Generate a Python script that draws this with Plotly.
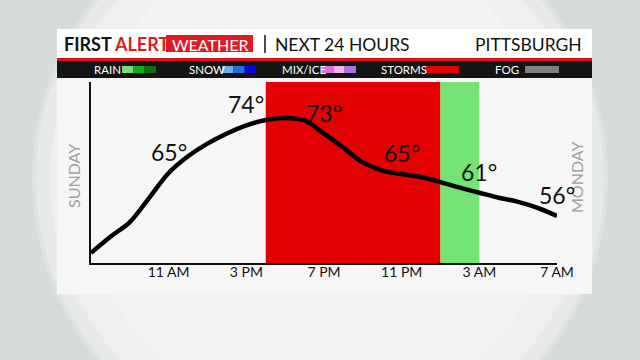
import plotly.graph_objects as go

# ---------------- data ----------------
hours = list(range(7, 32))  # 7 AM Sunday .. 7 AM Monday (31)
temps = [48.7, 51.9, 54.8, 59.6, 64.5, 67.8, 70.3, 72.3, 73.9, 75.0, 75.4, 74.9,
         72.3, 69.5, 66.6, 65.0, 64.3, 63.7, 62.7, 61.6, 60.6, 59.6, 58.8, 57.6, 56.0]
label_hours = [11, 15, 19, 23, 27, 31]
label_temps = [65, 74, 73, 65, 61, 56]
tick_vals = [11, 15, 19, 23, 27, 31]
tick_text = ["11 AM", "3 PM", "7 PM", "11 PM", "3 AM", "7 AM"]
period_starts = [16, 25]
period_ends = [25, 27]
period_colors = ["#e30000", "#74e474"]
legend_names = ["RAIN", "SNOW", "MIX/ICE", "STORMS", "FOG"]
legend_colors = [["#74e074", "#12b012", "#0b700b"],
                 ["#6cb0e8", "#2270e2", "#0606e0"],
                 ["#e070e0", "#f8b0e8", "#b070f2"],
                 ["#e30000"],
                 ["#808080"]]

W, H = 640, 360
FONT = "Lato"


def px(x):
    return x / W


def py(y):
    return 1 - y / H


shapes = []
annotations = []

# background sphere
for r, c in [(288, "#dfe2e2"), (284, "#e8eaea"), (270, "#eeefef"), (240, "#f1f2f2")]:
    shapes.append(dict(type="circle", xref="paper", yref="paper", layer="below",
                       x0=px(320 - r), x1=px(320 + r), y0=py(178 + r), y1=py(178 - r),
                       fillcolor=c, line=dict(width=0)))
# panel pieces
shapes.append(dict(type="rect", xref="paper", yref="paper", layer="below",
                   x0=px(57), x1=px(592), y0=py(58), y1=py(29), fillcolor="white", line=dict(width=0)))
shapes.append(dict(type="rect", xref="paper", yref="paper", layer="below",
                   x0=px(57), x1=px(592), y0=py(61), y1=py(58), fillcolor="#d9121b", line=dict(width=0)))
shapes.append(dict(type="rect", xref="paper", yref="paper", layer="below",
                   x0=px(57), x1=px(592), y0=py(78), y1=py(61), fillcolor="#141414", line=dict(width=0)))
shapes.append(dict(type="rect", xref="paper", yref="paper", layer="below",
                   x0=px(57), x1=px(592), y0=py(294), y1=py(78), fillcolor="#f6f6f6", line=dict(width=0)))
# weather box in title
shapes.append(dict(type="rect", xref="paper", yref="paper",
                   x0=px(166), x1=px(253), y0=py(52), y1=py(35), fillcolor="#dc1c22", line=dict(width=0)))
shapes.append(dict(type="line", xref="paper", yref="paper",
                   x0=px(265), x1=px(265), y0=py(53), y1=py(35), line=dict(color="#111", width=1.5)))

# condition periods on the chart
for s, e, c in zip(period_starts, period_ends, period_colors):
    shapes.append(dict(type="rect", xref="x", yref="y domain", layer="below",
                       x0=s, x1=e, y0=0, y1=1, fillcolor=c, line=dict(width=0)))

# legend bar
leg_text_x = [92, 187, 280, 379, 493]
leg_sw_x = [122, 222, 322, 425, 525]
for name, cols, tx, sx in zip(legend_names, legend_colors, leg_text_x, leg_sw_x):
    annotations.append(dict(xref="paper", yref="paper", x=px(tx), y=py(70), xanchor="left",
                            yanchor="middle", text=name, showarrow=False,
                            font=dict(family=FONT, size=11.5, color="white")))
    seg = 34 / len(cols)
    for i, c in enumerate(cols):
        shapes.append(dict(type="rect", xref="paper", yref="paper",
                           x0=px(sx + i * seg), x1=px(sx + (i + 1) * seg), y0=py(73), y1=py(66),
                           fillcolor=c, line=dict(width=0)))

# header text
annotations += [
    dict(xref="paper", yref="paper", x=px(62), y=py(44), xanchor="left", yanchor="middle",
         text="<b>FIRST <span style='color:#dc1c22'>ALERT</span></b>", showarrow=False,
         font=dict(family=FONT, size=18, color="#111", weight=900)),
    dict(xref="paper", yref="paper", x=px(209.5), y=py(44), xanchor="center", yanchor="middle",
         text="WEATHER", showarrow=False, font=dict(family=FONT, size=16, color="white")),
    dict(xref="paper", yref="paper", x=px(273), y=py(44), xanchor="left", yanchor="middle",
         text="NEXT 24 HOURS", showarrow=False, font=dict(family=FONT, size=17.5, color="#111")),
    dict(xref="paper", yref="paper", x=px(584), y=py(44), xanchor="right", yanchor="middle",
         text="PITTSBURGH", showarrow=False, font=dict(family=FONT, size=17.5, color="#111")),
    dict(xref="paper", yref="paper", x=px(73), y=py(176), xanchor="center", yanchor="middle",
         text="SUNDAY", textangle=-90, showarrow=False, font=dict(family=FONT, size=16, color="#a0a0a0")),
    dict(xref="paper", yref="paper", x=px(576), y=py(178), xanchor="center", yanchor="middle",
         text="MONDAY", textangle=-90, showarrow=False, font=dict(family=FONT, size=16, color="#a0a0a0")),
]

# temperature labels
for h, t in zip(label_hours, label_temps):
    yv = temps[hours.index(h)]
    annotations.append(dict(x=h, y=yv, xref="x", yref="y", text=f"{t}°", showarrow=False,
                            yshift=21, font=dict(family=FONT, size=23, color="#111")))

fig = go.Figure()
fig.add_trace(go.Scatter(x=hours, y=temps, mode="lines",
                         line=dict(color="black", width=4.5, shape="spline", smoothing=1),
                         hoverinfo="skip", showlegend=False))

fig.update_layout(
    width=W, height=H, autosize=False,
    margin=dict(l=0, r=0, t=0, b=0, pad=0, autoexpand=False),
    paper_bgcolor="#d6dbdc", plot_bgcolor="rgba(0,0,0,0)",
    shapes=shapes, annotations=annotations, showlegend=False,
    xaxis=dict(domain=[px(91), px(557)], range=[7, 31], showgrid=False, zeroline=False,
               automargin=False, ticklabelstandoff=-5,
               showline=True, linecolor="#111", linewidth=1.5, tickvals=tick_vals,
               ticktext=tick_text, ticks="", tickfont=dict(family=FONT, size=14, color="#111")),
    yaxis=dict(domain=[py(263), py(82)], range=[46.7, 82.5], showgrid=False, zeroline=False,
               automargin=False,
               showline=True, linecolor="#111", linewidth=1.5, showticklabels=False, ticks=""),
)

fig.write_html("out.html", config={"responsive": False})
